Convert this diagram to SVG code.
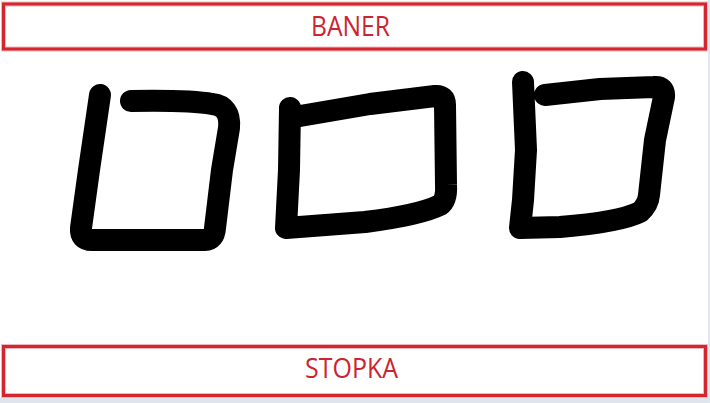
<svg xmlns="http://www.w3.org/2000/svg" width="710" height="403" viewBox="0 0 710 403">
<style>
.frame-halo{fill:none;stroke:#f0b8bc;stroke-width:5}
.frame{fill:none;stroke:#d3262f;stroke-width:3}
.lbl{font-family:"Open Sans","Noto Sans",sans-serif;font-size:27px;fill:#cc2430;text-anchor:middle}
.ink{fill:none;stroke:#000;stroke-width:22;stroke-linecap:round;stroke-linejoin:round}
</style>
<rect x="0" y="0" width="710" height="403" fill="#ffffff"/>
<rect x="0" y="398" width="710" height="5" fill="#dfe4ed"/>
<rect x="708" y="0" width="2" height="403" fill="#e2e6ee"/>
<g id="baner">
<rect class="frame-halo" x="3.5" y="4" width="702" height="45"/>
<rect class="frame" x="3.5" y="4" width="702" height="45"/>
<text class="lbl" x="350.5" y="36" textLength="79" lengthAdjust="spacingAndGlyphs">BANER</text>
</g>
<g id="stopka">
<rect class="frame-halo" x="3.5" y="346.5" width="702" height="49"/>
<rect class="frame" x="3.5" y="346.5" width="702" height="49"/>
<text class="lbl" x="351.5" y="377.5" textLength="93" lengthAdjust="spacingAndGlyphs">STOPKA</text>
</g>
<g id="box1">
<path class="ink" d="M100,95 L89,170 L81,228 Q80,240 92,240 L205,240 Q214,240 215,228 L222,170 L229,128 Q231,106 212,104 Q190,100 131,101"/>
</g>
<g id="box2">
<path class="ink" d="M290,108 L289,170 L286,228 L365,222 Q420,215 440,205 Q447,200 446,185 L445,105 Q445,95 435,96 L370,104 L300,116"/>
</g>
<g id="box3">
<path class="ink" d="M523,82 L526,150 L523,200 L520,228 L560,227 Q620,222 640,212 Q648,205 649,195 L655,140 L664,97 Q665,86 654,87 L600,89 L545,95"/>
</g>
<g id="connectors"></g>
</svg>
